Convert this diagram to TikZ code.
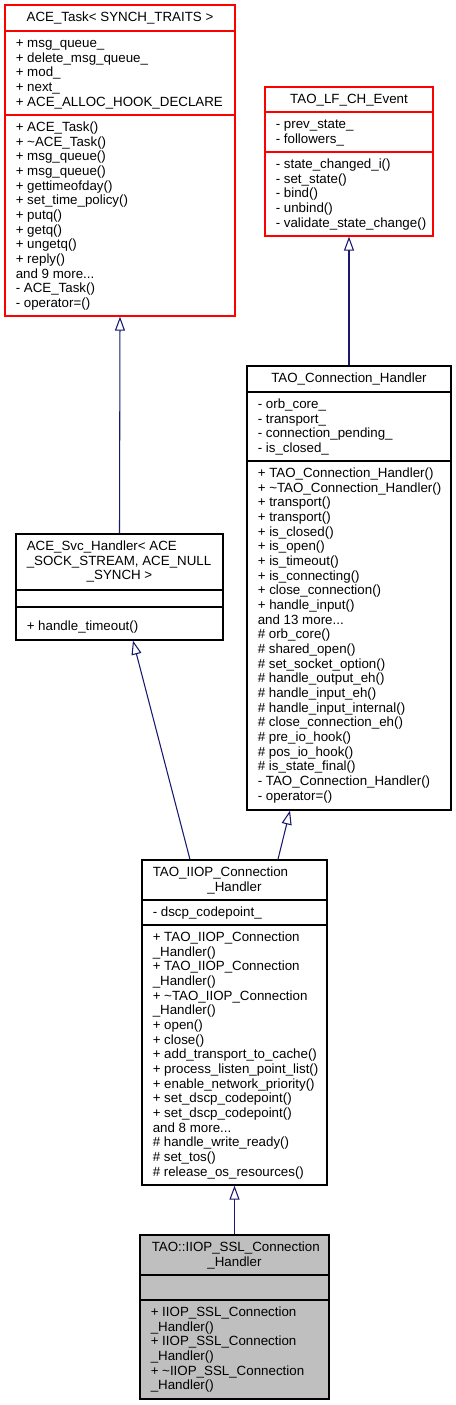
\documentclass[tikz,border=0pt]{standalone}
\usepackage{fontspec}
\setmainfont{Liberation Sans}
\usetikzlibrary{arrows.meta,fit}
\definecolor{edgeblue}{RGB}{25,25,112}
\definecolor{boxgray}{RGB}{191,191,191}
\tikzset{
  boxline/.style={line width=0.9pt},
  blackbox/.style={draw=black, boxline, inner sep=0pt},
  redbox/.style={draw=red, boxline, inner sep=0pt},
  graybox/.style={draw=black, fill=boxgray, boxline, inner sep=0pt},
  txt/.style={inner sep=0pt, anchor=base west, font=\fontsize{10}{11}\selectfont},
  ctxt/.style={inner sep=0pt, anchor=base, font=\fontsize{10}{11}\selectfont},
  inherit/.style={draw=edgeblue, line width=0.8pt, -{Triangle[length=10.5pt,width=7.5pt,fill=white]}},
}
\newcommand\linesof[1]{\begin{tabular}[t]{@{}l@{}}#1\end{tabular}}
\begin{document}
\begin{tikzpicture}[x=0.75pt,y=-0.75pt]
\useasboundingbox (0,0) rectangle (456,1405);
\fill[white] (0,0) rectangle (456,1405);

% ---------- ACE_Task ----------
\coordinate (taskNW) at (5,5);
\coordinate (taskSE) at (235,316);
\node[redbox, fit=(taskNW)(taskSE)] (task) {};
\draw[red, boxline] (5,31) -- (235,31);
\draw[red, boxline] (5,115) -- (235,115);
\node[ctxt] (taskT) at (120,21.5) {ACE\_Task< SYNCH\_TRAITS >};
\node[txt] (taskA) at (15.5,47.5) {\linesof{+ msg\_queue\_\\+ delete\_msg\_queue\_\\+ mod\_\\+ next\_\\+ ACE\_ALLOC\_HOOK\_DECLARE}};
\node[txt] (taskM) at (15.5,131.5) {\linesof{+ ACE\_Task()\\+ \textasciitilde ACE\_Task()\\+ msg\_queue()\\+ msg\_queue()\\+ gettimeofday()\\+ set\_time\_policy()\\+ putq()\\+ getq()\\+ ungetq()\\+ reply()\\and 9 more...\\- ACE\_Task()\\- operator=()}};

% ---------- TAO_LF_CH_Event ----------
\coordinate (lfNW) at (265,87);
\coordinate (lfSE) at (433,236);
\node[redbox, fit=(lfNW)(lfSE)] (lf) {};
\draw[red, boxline] (265,112) -- (433,112);
\draw[red, boxline] (265,152) -- (433,152);
\node[ctxt] (lfT) at (349,103.5) {TAO\_LF\_CH\_Event};
\node[txt] (lfA) at (275.5,128.5) {\linesof{- prev\_state\_\\- followers\_}};
\node[txt] (lfM) at (275.5,168.5) {\linesof{- state\_changed\_i()\\- set\_state()\\- bind()\\- unbind()\\- validate\_state\_change()}};

% ---------- TAO_Connection_Handler ----------
\coordinate (connNW) at (247,366);
\coordinate (connSE) at (451,810);
\node[blackbox, fit=(connNW)(connSE)] (conn) {};
\draw[boxline] (247,392) -- (451,392);
\draw[boxline] (247,461) -- (451,461);
\node[ctxt] (connT) at (349,382.5) {TAO\_Connection\_Handler};
\node[txt] (connA) at (257.5,408.5) {\linesof{- orb\_core\_\\- transport\_\\- connection\_pending\_\\- is\_closed\_}};
\node[txt] (connM) at (257.5,477.5) {\linesof{+ TAO\_Connection\_Handler()\\+ \textasciitilde TAO\_Connection\_Handler()\\+ transport()\\+ transport()\\+ is\_closed()\\+ is\_open()\\+ is\_timeout()\\+ is\_connecting()\\+ close\_connection()\\+ handle\_input()\\and 13 more...\\\# orb\_core()\\\# shared\_open()\\\# set\_socket\_option()\\\# handle\_output\_eh()\\\# handle\_input\_eh()\\\# handle\_input\_internal()\\\# close\_connection\_eh()\\\# pre\_io\_hook()\\\# pos\_io\_hook()\\\# is\_state\_final()\\- TAO\_Connection\_Handler()\\- operator=()}};

% ---------- ACE_Svc_Handler ----------
\coordinate (svcNW) at (16,534);
\coordinate (svcSE) at (223,640);
\node[blackbox, fit=(svcNW)(svcSE)] (svc) {};
\draw[boxline] (16,590) -- (223,590);
\draw[boxline] (16,607) -- (223,607);
\node[txt] (svcT1) at (26.5,550.5) {ACE\_Svc\_Handler< ACE};
\node[txt] (svcT2) at (26.5,565.2) {\_SOCK\_STREAM, ACE\_NULL};
\node[ctxt] (svcT3) at (119.5,579.8) {\_SYNCH >};
\node[txt] (svcM) at (26.5,630.5) {+ handle\_timeout()};

% ---------- TAO_IIOP_Connection_Handler ----------
\coordinate (iiopNW) at (142,860);
\coordinate (iiopSE) at (327,1185);
\node[blackbox, fit=(iiopNW)(iiopSE)] (iiop) {};
\draw[boxline] (142,900) -- (327,900);
\draw[boxline] (142,925) -- (327,925);
\node[txt] (iiopT1) at (152.5,876.5) {TAO\_IIOP\_Connection};
\node[ctxt] (iiopT2) at (234.5,891.2) {\_Handler};
\node[txt] (iiopA) at (152.5,916.5) {- dscp\_codepoint\_};
\node[txt] (iiopM) at (152.5,941.5) {\linesof{+ TAO\_IIOP\_Connection\\\_Handler()\\+ TAO\_IIOP\_Connection\\\_Handler()\\+ \textasciitilde TAO\_IIOP\_Connection\\\_Handler()\\+ open()\\+ close()\\+ add\_transport\_to\_cache()\\+ process\_listen\_point\_list()\\+ enable\_network\_priority()\\+ set\_dscp\_codepoint()\\+ set\_dscp\_codepoint()\\and 8 more...\\\# handle\_write\_ready()\\\# set\_tos()\\\# release\_os\_resources()}};

% ---------- TAO::IIOP_SSL_Connection_Handler ----------
\coordinate (sslNW) at (140,1235);
\coordinate (sslSE) at (329,1399);
\node[graybox, fit=(sslNW)(sslSE)] (ssl) {};
\draw[boxline] (140,1275) -- (329,1275);
\draw[boxline] (140,1300) -- (329,1300);
\node[txt] (sslT1) at (151.5,1251.5) {TAO::IIOP\_SSL\_Connection};
\node[ctxt] (sslT2) at (234.5,1266.2) {\_Handler};
\node[txt] (sslM) at (150.5,1316.5) {\linesof{+ IIOP\_SSL\_Connection\\\_Handler()\\+ IIOP\_SSL\_Connection\\\_Handler()\\+ \textasciitilde IIOP\_SSL\_Connection\\\_Handler()}};

% ---------- inheritance connectors ----------
\draw[inherit] (svc.north) -- (task.south);
\draw[inherit] (conn.north) -- (lf.south);
\draw[inherit] ([xshift=-33.4pt]iiop.north) -- ([xshift=10.1pt]svc.south);
\draw[inherit] ([xshift=32.6pt]iiop.north) -- ([xshift=-44.25pt]conn.south);
\draw[inherit] (ssl.north) -- (iiop.south);
\end{tikzpicture}
\end{document}
